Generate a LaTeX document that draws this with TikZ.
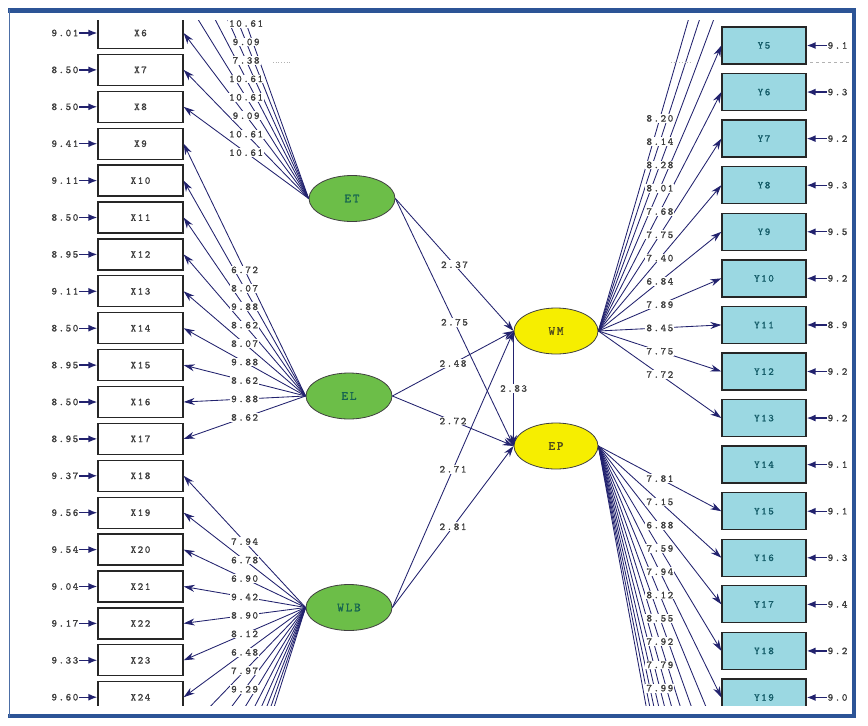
\documentclass[tikz,border=0pt]{standalone}
\usepackage{fontspec}
\newfontfamily\labfont{lmmono10-regular.otf}[LetterSpace=15,FakeBold=1.2]
\usetikzlibrary{arrows.meta,shapes.geometric}
\definecolor{navy}{RGB}{34,34,110}
\definecolor{framec}{RGB}{44,84,150}
\definecolor{grn}{RGB}{108,190,72}
\definecolor{yel}{RGB}{246,238,0}
\definecolor{cyanbox}{RGB}{155,216,226}
\definecolor{tealtxt}{RGB}{20,92,104}
\definecolor{grntxt}{RGB}{22,100,80}
\definecolor{yeltxt}{RGB}{80,76,28}
\definecolor{numtxt}{RGB}{60,60,60}
\newcommand\mylabsize{\labfont\fontsize{10.5}{12}\selectfont}
\newcommand\mylatsize{\labfont\fontsize{12.5}{14}\selectfont}
\begin{document}
\begin{tikzpicture}[x=1pt,y=-1pt,
  xbox/.style={draw=black!85, line width=1.3pt, minimum width=85pt, minimum height=31pt, inner sep=0pt, font=\mylabsize, text=numtxt},
  ybox/.style={draw=black!85, fill=cyanbox, line width=1.3pt, minimum width=84pt, minimum height=37pt, inner sep=0pt, font=\mylabsize, text=tealtxt},
  latg/.style={ellipse, draw=black!75, fill=grn, line width=0.8pt, minimum width=86pt, minimum height=46pt, inner sep=0pt, font=\mylatsize, text=grntxt},
  laty/.style={ellipse, draw=black!75, fill=yel, line width=0.8pt, minimum width=84pt, minimum height=46pt, inner sep=0pt, font=\mylatsize, text=yeltxt},
  ln/.style={draw=navy, line width=0.85pt, -{Stealth[length=11pt,width=7pt]}},
  errarr/.style={draw=navy, line width=1.4pt, -{Latex[length=9pt,width=7pt]}},
  lab/.style={fill=white, inner sep=1pt, font=\mylabsize, text=numtxt}
]
\useasboundingbox[fill=white] (0,0) rectangle (868,726);
\begin{scope}
\clip (10.5,20) rectangle (850.5,705);
% indicator boxes (those outside the frame carry no text)
\foreach \k in {1,...,5} { \node[xbox] (X\k) at (140.5,{33+(\k-6)*36.9}) {}; }
\foreach \k in {6,...,24} { \node[xbox] (X\k) at (140.5,{33+(\k-6)*36.9}) {X\k}; }
\foreach \k in {25,...,32} { \node[xbox] (X\k) at (140.5,{33+(\k-6)*36.9}) {}; }
\foreach \k in {1,...,4} { \node[ybox] (Y\k) at (764,{45.5+(\k-5)*46.57}) {}; }
\foreach \k in {5,...,19} { \node[ybox] (Y\k) at (764,{45.5+(\k-5)*46.57}) {Y\k}; }
\foreach \k in {20,...,28} { \node[ybox] (Y\k) at (764,{45.5+(\k-5)*46.57}) {}; }
% latent variables
\node[latg] (ET) at (352,198.5) {ET};
\node[latg] (EL) at (349,396) {EL};
\node[latg] (WLB) at (349,607.5) {WLB};
\node[laty] (WM) at (556,331) {WM};
\node[laty] (EP) at (556,446) {EP};
% loadings
\foreach \k in {1,...,8} \draw[ln] (ET.west) -- (X\k.east);
\foreach \k in {9,...,17} \draw[ln] (EL.west) -- (X\k.east);
\foreach \k in {18,...,32} \draw[ln] (WLB.west) -- (X\k.east);
\foreach \k in {2,...,13} \draw[ln] (WM.east) -- (Y\k.west);
\foreach \k in {15,...,28} \draw[ln] (EP.east) -- (Y\k.west);
% structural paths
\draw[ln] (ET.east) -- (WM.west);
\draw[ln] (ET.east) -- (EP.west);
\draw[ln] (EL.east) -- (WM.west);
\draw[ln] (EL.east) -- (EP.west);
\draw[ln] (WLB.east) -- (WM.west);
\draw[ln] (WLB.east) -- (EP.west);
\draw[ln] (WM.west) -- (EP.west);
% loading labels
\foreach \k/\v in {1/10.61,2/9.09,3/7.38,4/10.61,5/10.61,6/9.09,7/10.61,8/10.61}
  \path (ET.west) -- node[lab]{\v} (X\k.east);
\foreach \k/\v in {9/6.72,10/8.07,11/9.88,12/8.62,13/8.07,14/9.88,15/8.62,16/9.88,17/8.62}
  \path (EL.west) -- node[lab]{\v} (X\k.east);
\foreach \k/\v in {18/7.94,19/6.78,20/6.90,21/9.42,22/8.90,23/8.12,24/6.48,25/7.97,26/9.29}
  \path (WLB.west) -- node[lab]{\v} (X\k.east);
\foreach \k/\v in {2/8.20,3/8.14,4/8.28,5/8.01,6/7.68,7/7.75,8/7.40,9/6.84,10/7.89,11/8.45,12/7.75,13/7.72}
  \path (WM.east) -- node[lab]{\v} (Y\k.west);
\foreach \k/\v in {15/7.81,16/7.15,17/6.88,18/7.59,19/7.94,20/8.12,21/8.55,22/7.92,23/7.79,24/7.99}
  \path (EP.east) -- node[lab]{\v} (Y\k.west);
% structural labels
\path (ET.east) -- node[lab]{2.37} (WM.west);
\path (ET.east) -- node[lab]{2.75} (EP.west);
\path (EL.east) -- node[lab]{2.48} (WM.west);
\path (EL.east) -- node[lab]{2.72} (EP.west);
\path (WLB.east) -- node[lab]{2.71} (WM.west);
\path (WLB.east) -- node[lab]{2.81} (EP.west);
\path (WM.west) -- node[lab]{2.83} (EP.west);
% error variances, left
\foreach \k/\v in {6/9.01,7/8.50,8/8.50,9/9.41,10/9.11,11/8.50,12/8.95,13/9.11,14/8.50,15/8.95,16/8.50,17/8.95,18/9.37,19/9.56,20/9.54,21/9.04,22/9.17,23/9.33,24/9.60} {
  \coordinate (ex\k) at (79,{33+(\k-6)*36.9});
  \draw[errarr] (ex\k) -- (X\k.west);
  \node[lab, anchor=east, inner sep=0.5pt] (exl\k) at (ex\k) {\v};
}
% error variances, right
\foreach \k/\v in {5/9.1,6/9.3,7/9.2,8/9.3,9/9.5,10/9.2,11/8.9,12/9.2,13/9.2,14/9.1,15/9.1,16/9.3,17/9.4,18/9.2,19/9.0} {
  \coordinate (ey\k) at (827,{45.5+(\k-5)*46.57});
  \draw[errarr] (ey\k) -- (Y\k.east);
  \node[lab, anchor=west, inner sep=0.5pt] (eyl\k) at (ey\k) {\v};
}
% small residual marks
\draw[gray!60, dotted, line width=0.7pt] (273,62) -- (290,62);
\draw[gray!60, dotted, line width=0.7pt] (671,62) -- (692,62);
\draw[gray!60, dashed, line width=0.7pt] (810,62) -- (850,62);
\end{scope}
% frame
\draw[framec, line width=4.5pt] (8,10.5) -- (856,10.5);
\draw[framec, line width=4pt] (854,8) -- (854,718);
\draw[framec, line width=4pt] (8,716) -- (856,716);
\draw[framec!85, line width=1.6pt] (9.6,9) -- (9.6,717);
\end{tikzpicture}
\end{document}
